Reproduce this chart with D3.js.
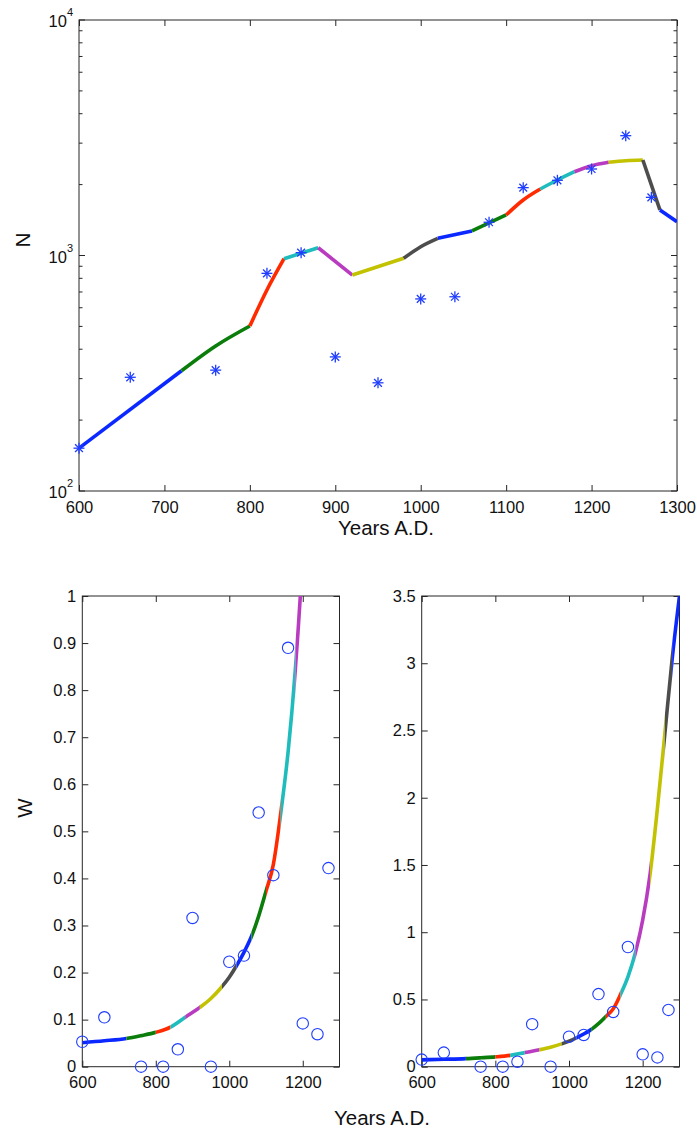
<!DOCTYPE html>
<html>
<head>
<meta charset="utf-8">
<script src="https://cdn.jsdelivr.net/npm/d3@7"></script>
<style>
  body { margin: 0; background: #fff; }
  svg { display: block; font-family: "Liberation Sans", Arial, Helvetica, sans-serif; }
</style>
</head>
<body>
<svg id="fig" width="697" height="1129"></svg>
<script>
// Model segments: each colour spans one interval between consecutive breaks
const segmentBreaks = [600, 720, 800, 840, 880, 920, 980, 1020, 1060, 1100, 1140, 1180, 1220, 1260, 1280, 1300];
const segmentColors = ["#0a28ff", "#0a7d0a", "#ff2a00", "#1ebcbc", "#b93cc0", "#c2c200", "#4d4d4d",
                       "#0a28ff", "#0a7d0a", "#ff2a00", "#1ebcbc", "#b93cc0", "#c2c200", "#4d4d4d", "#0a28ff"];

// Observation years (shared by N and W)
const obsYears = [600, 660, 760, 820, 860, 900, 950, 1000, 1040, 1080, 1120, 1160, 1200, 1240, 1270];
const nObsValues = [152, 304, 326, 840, 1028, 371, 288, 654, 668, 1384, 1941, 2086, 2330, 3227, 1766];
const wObsValues = [0.053, 0.105, 0.0, 0.0, 0.037, 0.316, 0.0, 0.223, 0.236, 0.540, 0.407, 0.890, 0.092, 0.069, 0.422];

// Modelled N
const nModelYears  = [600, 720, 760, 800, 820, 840, 880, 920, 980, 1000, 1020, 1060, 1100, 1120, 1140, 1160, 1180, 1200, 1220, 1240, 1260, 1280, 1300];
const nModelValues = [152, 324, 413, 502, 714, 969, 1079, 826, 973, 1090, 1183, 1271, 1486, 1721, 1916, 2092, 2269, 2406, 2488, 2527, 2544, 1561, 1392];

// Modelled W
const wModelYears  = [600, 660, 720, 760, 800, 840, 880, 920, 950, 980, 1000, 1020, 1040, 1060, 1080, 1100, 1120, 1140, 1160, 1180, 1200, 1220, 1240, 1260, 1280, 1300];
const wModelValues = [0.051, 0.055, 0.060, 0.066, 0.073, 0.084, 0.105, 0.126, 0.145, 0.170, 0.190, 0.215, 0.243, 0.276, 0.320, 0.373, 0.430, 0.538, 0.668, 0.846, 1.09, 1.43, 1.92, 2.47, 3.03, 3.5];

// Tick values
const topXTicks = [600, 700, 800, 900, 1000, 1100, 1200, 1300];
const topYMajor = [100, 1000, 10000];
const topYExp = ["2", "3", "4"];
const bottomXTicks = [600, 800, 1000, 1200];
const leftYTicks = [0, 0.1, 0.2, 0.3, 0.4, 0.5, 0.6, 0.7, 0.8, 0.9, 1];
const rightYTicks = [0, 0.5, 1, 1.5, 2, 2.5, 3, 3.5];

const svg = d3.select("#fig");
const axisColor = "#262626";
const tickFont = 16.5;
const titleFont = 20.5;
const markerColor = "#1f3dff";
const curveWidth = 3.6;

function styleAxis(g) {
  g.select(".domain").remove();
  g.selectAll("line").attr("stroke", axisColor);
  g.selectAll("text").attr("fill", "#111").style("font-size", tickFont + "px")
    .style("font-family", "'Liberation Sans', Arial, Helvetica, sans-serif");
  g.attr("font-family", null).attr("font-size", null);
}

function segmentPoints(years, values, i) {
  const a = segmentBreaks[i], b = segmentBreaks[i + 1];
  return years.map((y, k) => [y, values[k]]).filter(p => p[0] >= a && p[0] <= b);
}

/* ---------------- Upper panel: N on a log axis ---------------- */
const T = { left: 79, right: 677, top: 20, bottom: 491 };
const xT = d3.scaleLinear().domain([600, 1300]).range([T.left, T.right]);
const yT = d3.scaleLog().domain([100, 10000]).range([T.bottom, T.top]);

const upper = svg.append("g");
upper.append("defs").append("clipPath").attr("id", "clipUpper")
  .append("rect").attr("x", T.left).attr("y", T.top)
  .attr("width", T.right - T.left).attr("height", T.bottom - T.top);

upper.append("g").attr("transform", `translate(0,${T.bottom})`)
  .call(d3.axisBottom(xT).tickValues(topXTicks).tickSize(-6).tickPadding(10).tickFormat(d3.format("d")))
  .call(styleAxis);
upper.append("g").attr("transform", `translate(0,${T.top})`)
  .call(d3.axisTop(xT).tickValues(topXTicks).tickSize(-6).tickFormat(""))
  .call(styleAxis);

// Log ticks on both vertical sides
const minorTicks = [];
[100, 1000].forEach(d => { for (let k = 2; k <= 9; k++) minorTicks.push(d * k); });
[[T.left, 1], [T.right, -1]].forEach(([x0, dir]) => {
  upper.append("g").selectAll("line").data(minorTicks).join("line")
    .attr("x1", x0).attr("x2", x0 + dir * 3.5)
    .attr("y1", d => yT(d)).attr("y2", d => yT(d))
    .attr("stroke", axisColor);
  upper.append("g").selectAll("line").data(topYMajor).join("line")
    .attr("x1", x0).attr("x2", x0 + dir * 6)
    .attr("y1", d => yT(d)).attr("y2", d => yT(d))
    .attr("stroke", axisColor);
});

const yLabels = upper.append("g").selectAll("text").data(topYMajor).join("text")
  .attr("x", T.left - 6).attr("y", d => yT(d) + 7)
  .attr("text-anchor", "end").attr("fill", "#111")
  .style("font-size", tickFont + "px");
yLabels.append("tspan").text("10");
yLabels.append("tspan").attr("dy", -11).style("font-size", "11px").text((d, i) => topYExp[i]);

upper.append("rect").attr("x", T.left).attr("y", T.top)
  .attr("width", T.right - T.left).attr("height", T.bottom - T.top)
  .attr("fill", "none").attr("stroke", axisColor).attr("stroke-width", 1);

const lineT = d3.line().x(d => xT(d[0])).y(d => yT(d[1])).curve(d3.curveMonotoneX);
const nSegs = upper.append("g").attr("clip-path", "url(#clipUpper)");
segmentColors.forEach((c, i) => {
  nSegs.append("path").datum(segmentPoints(nModelYears, nModelValues, i))
    .attr("d", lineT).attr("fill", "none").attr("stroke", c)
    .attr("stroke-width", curveWidth).attr("stroke-linecap", "butt").attr("stroke-linejoin", "round");
});

// Asterisk markers for observed N
const star = upper.append("g").selectAll("g")
  .data(obsYears.map((y, k) => [y, nObsValues[k]])).join("g")
  .attr("transform", d => `translate(${xT(d[0])},${yT(d[1])})`);
[0, 45, 90, 135].forEach(a => {
  star.append("line").attr("x1", -5.5).attr("x2", 5.5).attr("y1", 0).attr("y2", 0)
    .attr("transform", `rotate(${a})`).attr("stroke", markerColor).attr("stroke-width", 1.3);
});

upper.append("text").attr("x", 386).attr("y", 535).attr("text-anchor", "middle")
  .style("font-size", titleFont + "px").attr("fill", "#111").text("Years A.D.");
upper.append("text").attr("transform", "translate(30,240) rotate(-90)").attr("text-anchor", "middle")
  .style("font-size", titleFont + "px").attr("fill", "#111").text("N");

/* ---------------- Lower panels: W ---------------- */
function wPanel(id, box, yMax, yTicks) {
  const x = d3.scaleLinear().domain([600, 1300]).range([box.left, box.right]);
  const y = d3.scaleLinear().domain([0, yMax]).range([box.bottom, box.top]);
  const g = svg.append("g");
  const defs = g.append("defs");

  g.append("g").attr("transform", `translate(0,${box.bottom})`)
    .call(d3.axisBottom(x).tickValues(bottomXTicks).tickSize(-6).tickPadding(10).tickFormat(d3.format("d")))
    .call(styleAxis);
  g.append("g").attr("transform", `translate(0,${box.top})`)
    .call(d3.axisTop(x).tickValues(bottomXTicks).tickSize(-6).tickFormat(""))
    .call(styleAxis);
  g.append("g").attr("transform", `translate(${box.left},0)`)
    .call(d3.axisLeft(y).tickValues(yTicks).tickSize(-6).tickPadding(6).tickFormat(d3.format("~g")))
    .call(styleAxis);
  g.append("g").attr("transform", `translate(${box.right},0)`)
    .call(d3.axisRight(y).tickValues(yTicks).tickSize(-6).tickFormat(""))
    .call(styleAxis);

  g.append("rect").attr("x", box.left).attr("y", box.top)
    .attr("width", box.right - box.left).attr("height", box.bottom - box.top)
    .attr("fill", "none").attr("stroke", axisColor);

  // One smooth curve, coloured piecewise by clipping to each interval
  const line = d3.line().x(d => x(d[0])).y(d => y(d[1])).curve(d3.curveMonotoneX);
  const pts = wModelYears.map((yr, k) => [yr, wModelValues[k]]);
  segmentColors.forEach((c, i) => {
    const cid = `${id}-seg${i}`;
    const x0 = x(segmentBreaks[i]), x1 = x(segmentBreaks[i + 1]);
    defs.append("clipPath").attr("id", cid).append("rect")
      .attr("x", x0).attr("y", box.top).attr("width", x1 - x0).attr("height", box.bottom - box.top + 2);
    g.append("path").datum(pts).attr("d", line).attr("clip-path", `url(#${cid})`)
      .attr("fill", "none").attr("stroke", c).attr("stroke-width", curveWidth);
  });

  g.append("g").selectAll("circle")
    .data(obsYears.map((yr, k) => [yr, wObsValues[k]])).join("circle")
    .attr("cx", d => x(d[0])).attr("cy", d => y(d[1])).attr("r", 5.7)
    .attr("fill", "none").attr("stroke", markerColor).attr("stroke-width", 1.1);
}

wPanel("wl", { left: 82.3, right: 339.5, top: 596, bottom: 1066.7 }, 1, leftYTicks);
wPanel("wr", { left: 421.7, right: 679.5, top: 596, bottom: 1066.7 }, 3.5, rightYTicks);

svg.append("text").attr("x", 382).attr("y", 1125).attr("text-anchor", "middle")
  .style("font-size", titleFont + "px").attr("fill", "#111").text("Years A.D.");
svg.append("text").attr("transform", "translate(32,808) rotate(-90)").attr("text-anchor", "middle")
  .style("font-size", titleFont + "px").attr("fill", "#111").text("W");
</script>
</body>
</html>
